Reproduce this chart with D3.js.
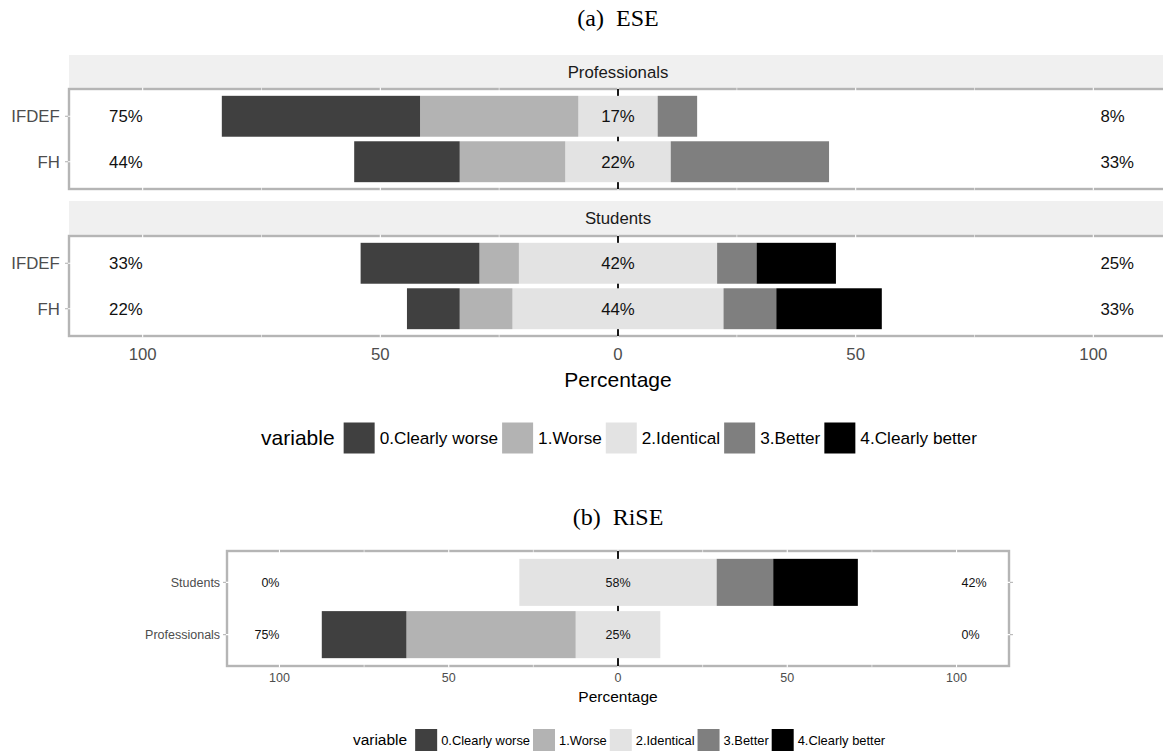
<!DOCTYPE html>
<html>
<head>
<meta charset="utf-8">
<script src="https://cdn.jsdelivr.net/npm/d3@7/dist/d3.min.js"></script>
<style>
  body { margin: 0; background: #fff; }
  svg { display: block; }
  text { font-family: 'Liberation Sans', Arial, sans-serif; }
</style>
</head>
<body>
<div id="chart"></div>
<script>
// answer levels and their grey fills
let levels = ['0.Clearly worse', '1.Worse', '2.Identical', '3.Better', '4.Clearly better']
let fills = ['#404040', '#b3b3b3', '#e3e3e3', '#7f7f7f', '#000000']

// (a) ESE - facets and items, values are % per level
let eseFacets = ['Professionals', 'Students']
let eseItems = ['IFDEF', 'FH']
let eseProfIFDEF = [41.7, 33.3, 16.7, 8.3, 0]
let eseProfFH = [22.2, 22.2, 22.2, 33.3, 0]
let eseStudIFDEF = [25, 8.3, 41.7, 8.3, 16.7]
let eseStudFH = [11.1, 11.1, 44.4, 11.1, 22.2]

// (b) RiSE
let riseGroups = ['Students', 'Professionals']
let riseStudents = [0, 0, 58.3, 16.7, 25]
let riseProfessionals = [25, 50, 25, 0, 0]

let majorTicks = [-100, -50, 0, 50, 100]
let minorTicks = [-75, -25, 25, 75]
let xMax = 115.5

let width = 1163
let height = 754

let svg = d3
  .select('#chart')
  .append('svg')
  .attr('width', width)
  .attr('height', height)

// draws one likert panel: rows top to bottom
function likertPanel(cfg) {
  let g = svg.append('g')
  let x = d3.scaleLinear().domain([-xMax, xMax]).range([cfg.left, cfg.right])
  let y = d3
    .scalePoint()
    .domain(cfg.rows.map(d => d.name))
    .range([cfg.top, cfg.bottom])
    .padding(0.6)
  let bh = y.step() * 0.9

  if (cfg.strip) {
    g.append('rect')
      .attr('x', cfg.left)
      .attr('y', cfg.stripTop)
      .attr('width', cfg.right - cfg.left)
      .attr('height', cfg.top - cfg.stripTop)
      .attr('fill', '#f0f0f0')
    g.append('text')
      .attr('x', (cfg.left + cfg.right) / 2)
      .attr('y', (cfg.stripTop + cfg.top) / 2)
      .attr('dy', '0.35em')
      .attr('text-anchor', 'middle')
      .attr('font-size', cfg.fs)
      .attr('fill', '#1a1a1a')
      .text(cfg.strip)
  }

  // panel background with grey outline
  g.append('rect')
    .attr('x', cfg.left)
    .attr('y', cfg.top)
    .attr('width', cfg.right - cfg.left)
    .attr('height', cfg.bottom - cfg.top)
    .attr('fill', '#fff')
    .attr('stroke', '#b5b5b5')
    .attr('stroke-width', 2.4)

  // white grid, only shows where it cuts the outline
  g.selectAll('.vmajor')
    .data(majorTicks)
    .enter()
    .append('line')
    .attr('x1', d => x(d))
    .attr('x2', d => x(d))
    .attr('y1', cfg.top - 1.5)
    .attr('y2', cfg.bottom + 1.5)
    .attr('stroke', '#fff')
    .attr('stroke-width', 1.1)
  g.selectAll('.vminor')
    .data(minorTicks)
    .enter()
    .append('line')
    .attr('x1', d => x(d))
    .attr('x2', d => x(d))
    .attr('y1', cfg.top - 1.5)
    .attr('y2', cfg.bottom + 1.5)
    .attr('stroke', '#fff')
    .attr('stroke-width', 0.6)
  g.selectAll('.hgrid')
    .data(cfg.rows)
    .enter()
    .append('line')
    .attr('x1', cfg.left - 1.5)
    .attr('x2', cfg.right + 1.5)
    .attr('y1', d => y(d.name))
    .attr('y2', d => y(d.name))
    .attr('stroke', '#fff')
    .attr('stroke-width', 1.1)

  // zero line behind the bars
  g.append('line')
    .attr('x1', x(0))
    .attr('x2', x(0))
    .attr('y1', cfg.top)
    .attr('y2', cfg.bottom)
    .attr('stroke', '#000')
    .attr('stroke-width', 1.8)

  // stacked segments, the neutral one split over zero
  cfg.rows.forEach(row => {
    let v = row.values
    let segs = []
    let start = -v[2] / 2
    segs.push({ i: 2, a: start, b: v[2] / 2 })
    segs.push({ i: 1, a: start - v[1], b: start })
    segs.push({ i: 0, a: start - v[1] - v[0], b: start - v[1] })
    let end = v[2] / 2
    segs.push({ i: 3, a: end, b: end + v[3] })
    segs.push({ i: 4, a: end + v[3], b: end + v[3] + v[4] })
    g.selectAll(null)
      .data(segs.filter(s => s.b > s.a))
      .enter()
      .append('rect')
      .attr('x', s => x(s.a))
      .attr('width', s => x(s.b) - x(s.a))
      .attr('y', y(row.name) - bh / 2)
      .attr('height', bh)
      .attr('fill', s => fills[s.i])

    let low = Math.round(v[0] + v[1]) + '%'
    let mid = Math.round(v[2]) + '%'
    let high = Math.round(v[3] + v[4]) + '%'
    let labels = [
      { t: low, x: x(-100), anchor: 'end' },
      { t: mid, x: x(0), anchor: 'middle' },
      { t: high, x: x(101.5), anchor: 'start' }
    ]
    g.selectAll(null)
      .data(labels)
      .enter()
      .append('text')
      .attr('x', d => d.x)
      .attr('y', y(row.name))
      .attr('dy', '0.35em')
      .attr('text-anchor', d => d.anchor)
      .attr('font-size', cfg.fs)
      .attr('fill', '#111')
      .text(d => d.t)
  })

  // y axis labels and ticks
  cfg.rows.forEach(row => {
    g.append('line')
      .attr('x1', cfg.left - 4)
      .attr('x2', cfg.left - 1)
      .attr('y1', y(row.name))
      .attr('y2', y(row.name))
      .attr('stroke', '#b5b5b5')
      .attr('stroke-width', 1.1)
    g.append('line')
      .attr('x1', cfg.right + 1)
      .attr('x2', cfg.right + 4)
      .attr('y1', y(row.name))
      .attr('y2', y(row.name))
      .attr('stroke', '#b5b5b5')
      .attr('stroke-width', 1.1)
    g.append('text')
      .attr('x', cfg.left - cfg.fs * 0.55)
      .attr('y', y(row.name))
      .attr('dy', '0.35em')
      .attr('text-anchor', 'end')
      .attr('font-size', cfg.fs)
      .attr('fill', '#4d4d4d')
      .text(row.name)
  })

  return x
}

function xAxis(x, cfg) {
  svg.append('g')
    .selectAll('text')
    .data(majorTicks)
    .enter()
    .append('text')
    .attr('x', d => x(d))
    .attr('y', cfg.tickY)
    .attr('dy', '0.35em')
    .attr('text-anchor', 'middle')
    .attr('font-size', cfg.fs)
    .attr('fill', '#4d4d4d')
    .text(d => Math.abs(d))
  svg.append('text')
    .attr('x', x(0))
    .attr('y', cfg.titleY)
    .attr('dy', '0.35em')
    .attr('text-anchor', 'middle')
    .attr('font-size', cfg.titleFs)
    .attr('fill', '#000')
    .text('Percentage')
}

// horizontal legend, centred on cx
function legend(cx, cy, cfg) {
  let g = svg.append('g')
  let cursor = 0
  let title = g.append('text')
    .attr('x', 0)
    .attr('y', cy)
    .attr('dy', '0.35em')
    .attr('font-size', cfg.titleFs)
    .text('variable')
  cursor = title.node().getComputedTextLength() + cfg.gapTitle
  levels.forEach((lv, i) => {
    g.append('rect')
      .attr('x', cursor)
      .attr('y', cy - cfg.box / 2)
      .attr('width', cfg.box)
      .attr('height', cfg.box)
      .attr('fill', fills[i])
    cursor += cfg.box + cfg.gapText
    let t = g.append('text')
      .attr('x', cursor)
      .attr('y', cy)
      .attr('dy', '0.35em')
      .attr('font-size', cfg.fs)
      .text(lv)
    cursor += t.node().getComputedTextLength() + cfg.gapItem
  })
  cursor -= cfg.gapItem
  g.attr('transform', 'translate(' + (cx - cursor / 2) + ',0)')
}

function subTitle(tag, name, cx, cy) {
  let t = svg.append('text')
    .attr('x', cx)
    .attr('y', cy)
    .attr('dy', '0.35em')
    .attr('text-anchor', 'middle')
    .attr('font-size', 24)
    .style('font-family', "'Liberation Serif', 'DejaVu Serif', serif")
  t.append('tspan').text(tag)
  t.append('tspan').attr('dx', 12).text(name)
}

// ----- (a) ESE -----
subTitle('(a)', 'ESE', 618, 18)

let eseData = [
  [{ name: eseItems[0], values: eseProfIFDEF }, { name: eseItems[1], values: eseProfFH }],
  [{ name: eseItems[0], values: eseStudIFDEF }, { name: eseItems[1], values: eseStudFH }]
]
let facetTops = [[55, 89, 189], [201, 236, 336]]
let xa
eseFacets.forEach((f, i) => {
  xa = likertPanel({
    left: 69,
    right: 1167,
    stripTop: facetTops[i][0],
    top: facetTops[i][1],
    bottom: facetTops[i][2],
    strip: f,
    rows: eseData[i],
    fs: 16.8
  })
})
xAxis(xa, { tickY: 354, titleY: 380, fs: 16.8, titleFs: 21 })
legend(619, 438, { titleFs: 21, fs: 17.2, box: 31, gapTitle: 9, gapText: 5, gapItem: 4 })

// ----- (b) RiSE -----
subTitle('(b)', 'RiSE', 618, 517)

let xb = likertPanel({
  left: 227,
  right: 1009,
  top: 551,
  bottom: 666,
  rows: [
    { name: riseGroups[0], values: riseStudents },
    { name: riseGroups[1], values: riseProfessionals }
  ],
  fs: 12.5
})
xAxis(xb, { tickY: 678, titleY: 697, fs: 12.5, titleFs: 15.5 })
legend(619, 740, { titleFs: 15.5, fs: 12.9, box: 22, gapTitle: 8, gapText: 4, gapItem: 3 })
</script>
</body>
</html>
